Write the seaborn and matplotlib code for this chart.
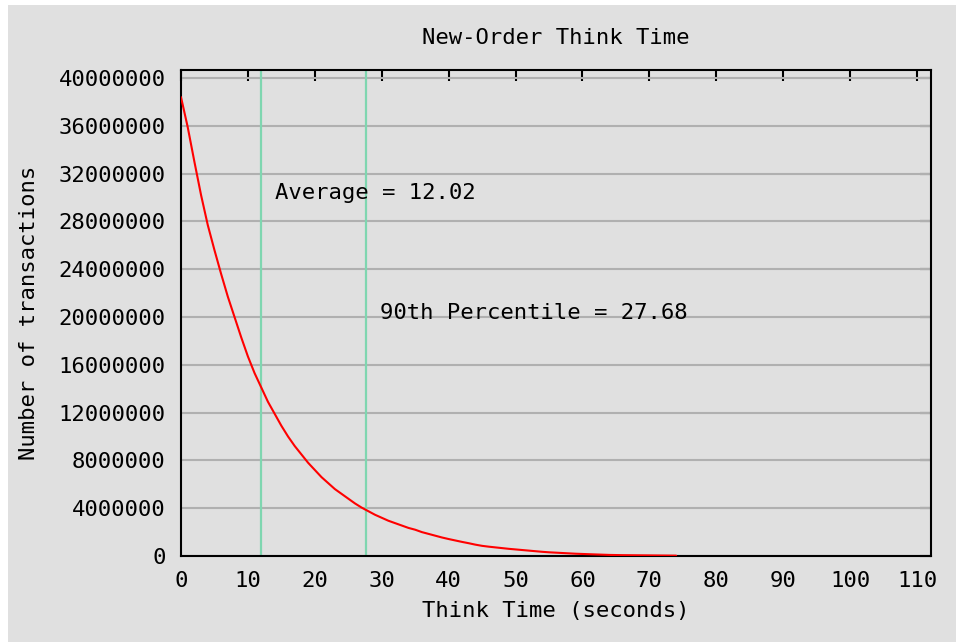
import numpy as np
import pandas as pd
import matplotlib
matplotlib.use("Agg")
import matplotlib.pyplot as plt
from matplotlib.patches import Rectangle
import seaborn as sns

# think time (seconds) and transaction counts (millions)
think_time = list(range(0, 75))
transactions = [
    38.4, 35.9, 33.0, 30.2, 27.7, 25.6, 23.6, 21.7, 20.0, 18.3,
    16.7, 15.3, 14.1, 12.9, 11.9, 10.9, 10.0, 9.2, 8.5, 7.8,
    7.2, 6.6, 6.1, 5.6, 5.2, 4.8, 4.4, 4.05, 3.75, 3.45,
    3.2, 2.95, 2.75, 2.55, 2.35, 2.2, 2.0, 1.85, 1.7, 1.55,
    1.42, 1.3, 1.18, 1.07, 0.95, 0.85, 0.78, 0.72, 0.66, 0.6,
    0.55, 0.5, 0.45, 0.4, 0.35, 0.31, 0.28, 0.25, 0.22, 0.19,
    0.17, 0.15, 0.13, 0.11, 0.09, 0.08, 0.07, 0.065, 0.06, 0.055,
    0.05, 0.045, 0.04, 0.035, 0.03,
]
transactions = [v * 1e6 for v in transactions]

average = 12.02
percentile_90 = 27.68
x_ticks = list(range(0, 111, 10))
y_ticks = list(range(0, 40000001, 4000000))

df = pd.DataFrame({"Think Time": think_time, "Transactions": transactions})

bg = "#e0e0e0"
sns.set_style("white", {"axes.facecolor": bg, "figure.facecolor": bg,
                        "text.color": "black", "axes.labelcolor": "black"})
plt.rcParams["font.family"] = ["DejaVu Sans Mono"]
fs = 16

fig = plt.figure(figsize=(9.56, 6.42), dpi=100)
# thin white frame on the left and top, as in the original image
fig.add_artist(Rectangle((0, 0), 8 / 956, 1, transform=fig.transFigure,
                         facecolor="white", edgecolor="none", zorder=-1))
fig.add_artist(Rectangle((0, 1 - 5 / 642), 1, 5 / 642, transform=fig.transFigure,
                         facecolor="white", edgecolor="none", zorder=-1))

ax = fig.add_axes([181 / 956, 86 / 642, 750 / 956, 486 / 642])

for yv in y_ticks:
    ax.axhline(yv, color="#b0b0b0", lw=1.5, zorder=1)

ax.axvline(average, color="#7fd6b0", lw=1.6, zorder=2)
ax.axvline(percentile_90, color="#7fd6b0", lw=1.6, zorder=2)

sns.lineplot(data=df, x="Think Time", y="Transactions", color="red", lw=1.5, ax=ax, zorder=3)

ax.text(14.05, 30.4e6, f"Average = {average:.2f}", va="center", ha="left", fontsize=fs)
ax.text(29.74, 20.3e6, f"90th Percentile = {percentile_90:.2f}", va="center", ha="left", fontsize=fs)

ax.set_xlim(0, 112.1)
ax.set_ylim(0, 40.67e6)
ax.set_xticks(x_ticks)
ax.set_yticks(y_ticks)
ax.set_yticklabels([str(v) for v in y_ticks])
ax.tick_params(direction="in", length=8, width=1.5, top=True, right=True,
               labelsize=fs, pad=11, colors="black")
for s in ax.spines.values():
    s.set_color("black")
    s.set_linewidth(1.5)

ax.set_title("New-Order Think Time", fontsize=fs, pad=19)
ax.set_xlabel("Think Time (seconds)", fontsize=fs, labelpad=7)
ax.set_ylabel("Number of transactions", fontsize=fs, labelpad=14)

fig.savefig("out.png", dpi=100, facecolor=bg)
